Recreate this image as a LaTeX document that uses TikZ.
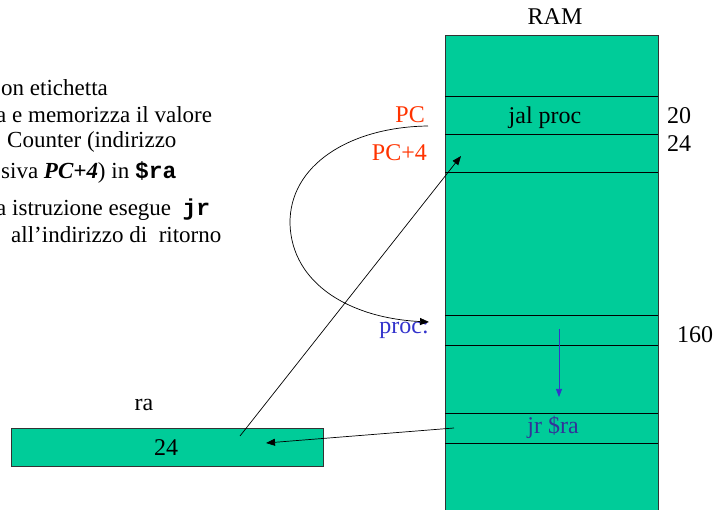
\documentclass[tikz,border=0pt]{standalone}
\usepackage{fontspec}
\setmainfont{Liberation Serif}
\setmonofont{Liberation Mono}
\usetikzlibrary{arrows.meta}
\definecolor{ramgreen}{HTML}{00CC99}
\definecolor{pcred}{HTML}{FF3300}
\definecolor{procblue}{HTML}{3333CC}
\definecolor{jrblue}{HTML}{333399}
\begin{document}
\begin{tikzpicture}[x=1pt,y=-1pt,
  txt/.style={inner sep=0pt, anchor=base west, font=\fontsize{23}{26}\selectfont},
  lbl/.style={inner sep=0pt, anchor=base, font=\fontsize{24}{28}\selectfont},
  lblw/.style={inner sep=0pt, anchor=base west, font=\fontsize{24}{28}\selectfont},
  cell/.style={fill=ramgreen, draw=black!80, line width=0.8pt},
  sep/.style={draw=black, line width=0.8pt},
  arr/.style={-{Triangle[length=9pt,width=7pt]}, line width=0.7pt},
  barr/.style={-{Triangle[length=8pt,width=6pt]}, line width=0.7pt, draw=procblue},
]
\useasboundingbox (0,0) rectangle (715,510);
\clip (0,0) rectangle (715,510);

% left text (cut off at the left edge, as in the reference)
\node[txt] (t1) at (1,96) {on etichetta};
\node[txt] (t2) at (-4,123) {a e memorizza il valore};
\node[txt] (t3) at (7,148) {Counter (indirizzo};
\node[txt] (t4) at (1,179) {siva \textbf{\textit{PC+4}}) in \texttt{\textbf{\$ra}}};
\node[txt] (t5) at (-4,216) {a istruzione esegue \ \texttt{\textbf{jr}}};
\node[txt] (t6) at (11,243) {all’indirizzo di \ ritorno};

% RAM
\node[lbl] (ramlbl) at (555,25) {RAM};
\draw[cell] (445,35) rectangle (658,520);
\foreach \y in {96,134,172,315,345,413,443}
  \draw[sep] (445,\y) -- (658,\y);
\node[lbl] (jal) at (545,124) {jal proc};
\node[lblw] (a20) at (667,124) {20};
\node[lblw] (a24) at (667,152) {24};
\node[lblw] (a160) at (677,343) {160};
\node[lbl, text=pcred, anchor=base east] (pc) at (425,123) {PC};
\node[lbl, text=pcred, anchor=base east] (pc4) at (427,161) {PC+4};
\node[lbl, text=procblue, anchor=base east] (proc) at (429,334) {proc:};
\node[lbl, text=jrblue] (jr) at (553,434) {jr \$ra};

% register ra
\node[lbl] (ralbl) at (144,411) {ra};
\draw[cell] (11,428) rectangle (323,466);
\node[lbl] (raval) at (166,455) {24};

% connector end points
\coordinate (pcstart) at (428,126);
\coordinate (procend) at (429,322);
\coordinate (raout) at (240,436);
\coordinate (pc4in) at (461,156);
\coordinate (jrout) at (454,428);
\coordinate (rain) at (266,443);
\coordinate (seqtop) at (559,329);
\coordinate (seqbot) at (559,397);

% connectors
\draw[arr] (pcstart) .. controls (350,127) and (289,165) .. (290,224)
  .. controls (292,284) and (350,318) .. (procend);
\draw[arr] (raout) -- (pc4in);
\draw[arr] (jrout) -- (rain);
\draw[barr] (seqtop) -- (seqbot);
\end{tikzpicture}
\end{document}
